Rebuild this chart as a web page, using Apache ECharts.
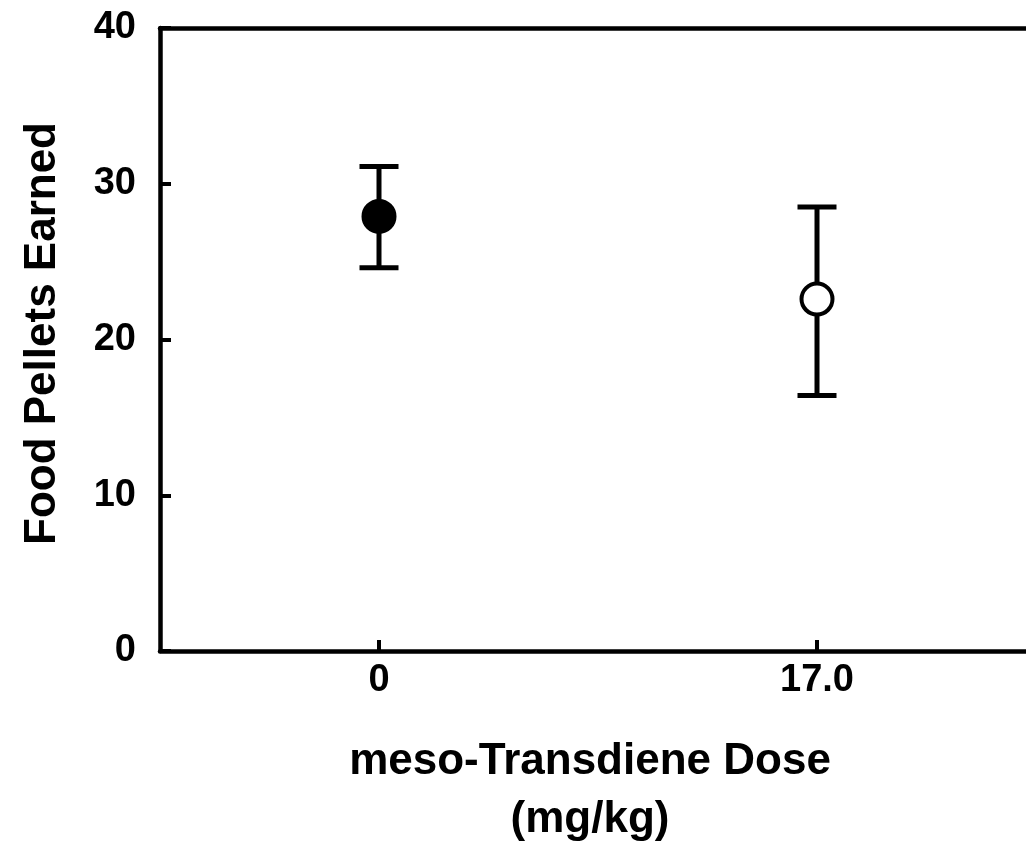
<!DOCTYPE html>
<html>
<head>
<meta charset="utf-8">
<script src="https://cdn.jsdelivr.net/npm/echarts@6/dist/echarts.min.js"></script>
<style>html,body{margin:0;padding:0;background:#fff;overflow:hidden;width:1026px;height:854px;}#c{width:1036px;height:854px;}</style>
</head>
<body>
<div id="c"></div>
<script>
const categories = ['0', '17.0'];
const means = [27.9, 22.6];
const upper = [31.1, 28.5];
const lower = [24.6, 16.4];
const filled = [true, false];
const yTicks = [0, 10, 20, 30, 40];

const FONT = '"Liberation Sans", Arial, sans-serif';
const chart = echarts.init(document.getElementById('c'));
chart.setOption({
  animation: false,
  backgroundColor: '#fff',
  grid: { left: 160, top: 28, right: 0, bottom: 200, containLabel: false },
  xAxis: [{
    type: 'category',
    data: categories,
    boundaryGap: true,
    position: 'bottom',
    axisLine: { show: true, onZero: false, lineStyle: { color: '#000', width: 4.5 } },
    axisTick: { show: true, inside: true, alignWithLabel: true, length: 11, lineStyle: { color: '#000', width: 4 } },
    axisLabel: { color: '#000', fontFamily: FONT, fontWeight: 'bold', fontSize: 38, margin: 11 },
    splitLine: { show: false },
    name: 'meso-Transdiene Dose\n(mg/kg)',
    nameLocation: 'middle',
    nameGap: 82,
    nameTextStyle: { color: '#000', fontFamily: FONT, fontWeight: 'bold', fontSize: 44, lineHeight: 58, padding: [0, 16, 0, 0] }
  }, {
    type: 'category',
    data: categories,
    position: 'top',
    axisLine: { show: true, onZero: false, lineStyle: { color: '#000', width: 4.5 } },
    axisTick: { show: false },
    axisLabel: { show: false },
    splitLine: { show: false }
  }],
  yAxis: {
    type: 'value',
    min: yTicks[0],
    max: yTicks[yTicks.length - 1],
    interval: 10,
    axisLine: { show: true, lineStyle: { color: '#000', width: 4.5 } },
    axisTick: { show: true, inside: true, length: 11, lineStyle: { color: '#000', width: 4 } },
    axisLabel: { color: '#000', fontFamily: FONT, fontWeight: 'bold', fontSize: 38, margin: 24 },
    splitLine: { show: false },
    name: 'Food Pellets Earned',
    nameLocation: 'middle',
    nameGap: 95,
    nameTextStyle: { color: '#000', fontFamily: FONT, fontWeight: 'bold', fontSize: 44, padding: [0, 0, 0, 12] }
  },
  series: [{
    type: 'custom',
    xAxisIndex: 0,
    z: 2,
    data: categories.map((c, i) => [i, lower[i], upper[i]]),
    renderItem: function (params, api) {
      const x = api.value(0);
      const lo = api.coord([x, api.value(1)]);
      const hi = api.coord([x, api.value(2)]);
      const hw = 19.5;
      const st = { stroke: '#000', lineWidth: 5 };
      return {
        type: 'group',
        children: [
          { type: 'line', shape: { x1: lo[0], y1: lo[1], x2: hi[0], y2: hi[1] }, style: st },
          { type: 'line', shape: { x1: hi[0] - hw, y1: hi[1], x2: hi[0] + hw, y2: hi[1] }, style: st },
          { type: 'line', shape: { x1: lo[0] - hw, y1: lo[1], x2: lo[0] + hw, y2: lo[1] }, style: st }
        ]
      };
    }
  }, {
    type: 'scatter',
    xAxisIndex: 0,
    z: 5,
    symbol: 'circle',
    symbolSize: 31,
    data: means.map((v, i) => ({
      value: [i, v],
      itemStyle: { color: filled[i] ? '#000' : '#fff', borderColor: '#000', borderWidth: 4, opacity: 1 }
    }))
  }]
});
</script>
</body>
</html>
